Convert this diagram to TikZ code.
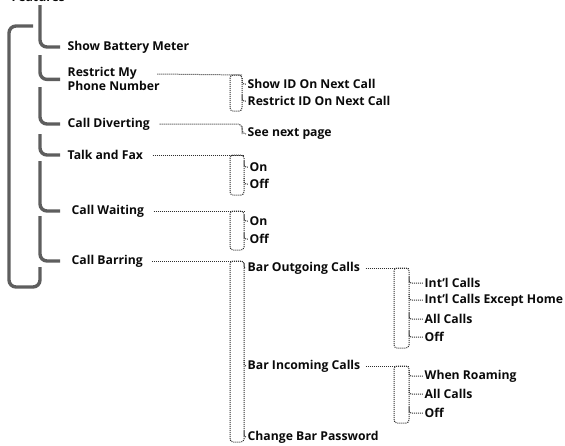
\documentclass[tikz,border=0pt]{standalone}
\usepackage{fontspec}
\setmainfont{Open Sans}
\usepackage{tikz}
\usetikzlibrary{calc,positioning}
\definecolor{inkc}{HTML}{0A0A0A}
\definecolor{barc}{HTML}{5E5E5E}
\definecolor{linkc}{HTML}{2E2E2E}
\tikzset{
  item/.style={anchor=west,inner sep=1.5pt,text=inkc,font=\bfseries\fontsize{12.2}{14}\selectfont},
  trunk/.style={barc,line width=3.4pt,rounded corners=7pt},
  link/.style={linkc,densely dotted,line width=1pt},
  hook/.style={link,rounded corners=2pt}
}
\begin{document}
\begin{tikzpicture}[x=1pt,y=-1pt]
\useasboundingbox (0,0) rectangle (565,445);
\clip (0,0) rectangle (565,445);
\node[item,anchor=base west] (title) at (10,1) {Features};
% main menu
\node[item] (battery) at (66,47) {Show Battery Meter};
\node[item,align=left,anchor=north west] (restrict) at (66,66) {Restrict My\\Phone Number};
\node[item] (divert) at (66,124) {Call Diverting};
\node[item] (fax) at (66,155) {Talk and Fax};
\node[item] (waiting) at (70,211) {Call Waiting};
\node[item] (barring) at (70,261) {Call Barring};
\draw[trunk] (40,5) |- ([xshift=-6pt]battery.west);
\draw[trunk] (40,55) |- ([xshift=-6pt]restrict.west);
\draw[trunk] (40,87) |- ([xshift=-6pt]divert.west);
\draw[trunk] (40,134) |- ([xshift=-6pt]fax.west);
\draw[trunk] (40,161) |- ([xshift=-10pt]waiting.west);
\draw[trunk] (40,216) |- ([xshift=-10pt]barring.west);
\draw[trunk] (40,267) -- (40,287) -- (9,287) -- (9,26) -- (33,26);
% second level
\node[item] (showid) at (246,84) {Show ID On Next Call};
\node[item] (restrictid) at (246,101) {Restrict ID On Next Call};
\node[item] (nextpage) at (246,134) {See next page};
\node[item] (faxon) at (248,167) {On};
\node[item] (faxoff) at (248,184) {Off};
\node[item] (waiton) at (248,221) {On};
\node[item] (waitoff) at (248,239) {Off};
\node[item] (outgoing) at (246,268) {Bar Outgoing Calls};
\node[item] (incoming) at (246,366) {Bar Incoming Calls};
\node[item] (password) at (246,437) {Change Bar Password};
\draw[link] ([xshift=-4pt,yshift=-8pt]restrict.north east) -- (242,75);
\draw[link,rounded corners=3pt] (230,75) rectangle (242,111);
\draw[hook] (242,78) |- (showid.west);
\draw[hook] (242,95) |- (restrictid.west);
\draw[link,rounded corners=4pt] ([xshift=8pt]divert.east) -| (242,130) |- (nextpage.west);
\draw[link] ([xshift=8pt]fax.east) -- (244,155);
\draw[link,rounded corners=3pt] (230,155) rectangle (244,195);
\draw[hook] (244,161) |- (faxon.west);
\draw[hook] (244,178) |- (faxoff.west);
\draw[link] ([xshift=8pt]waiting.east) -- (244,211);
\draw[link,rounded corners=3pt] (230,211) rectangle (244,250);
\draw[hook] (244,215) |- (waiton.west);
\draw[hook] (244,233) |- (waitoff.west);
\draw[link] ([xshift=8pt]barring.east) -- (244,261);
\draw[link,rounded corners=3pt] (230,261) rectangle (244,442);
\draw[hook] (244,263) |- (outgoing.west);
\draw[hook] (244,360) |- (incoming.west);
\draw[hook] (244,431) |- (password.west);
% third level
\node[item] (intl) at (423,283) {Int'l Calls};
\node[item] (intlhome) at (423,300) {Int'l Calls Except Home};
\node[item] (outall) at (423,319) {All Calls};
\node[item] (outoff) at (423,337) {Off};
\node[item] (roaming) at (423,376) {When Roaming};
\node[item] (inall) at (423,394) {All Calls};
\node[item] (inoff) at (423,413) {Off};
\draw[link] ([xshift=4pt]outgoing.east) -- (409,268);
\draw[link,rounded corners=3pt] (394,268) rectangle (409,348);
\draw[hook] (409,277) |- (intl.west);
\draw[hook] (409,294) |- (intlhome.west);
\draw[hook] (409,313) |- (outall.west);
\draw[hook] (409,331) |- (outoff.west);
\draw[link] ([xshift=4pt]incoming.east) -- (409,366);
\draw[link,rounded corners=3pt] (394,366) rectangle (409,423);
\draw[hook] (409,370) |- (roaming.west);
\draw[hook] (409,388) |- (inall.west);
\draw[hook] (409,407) |- (inoff.west);
\end{tikzpicture}
\end{document}
